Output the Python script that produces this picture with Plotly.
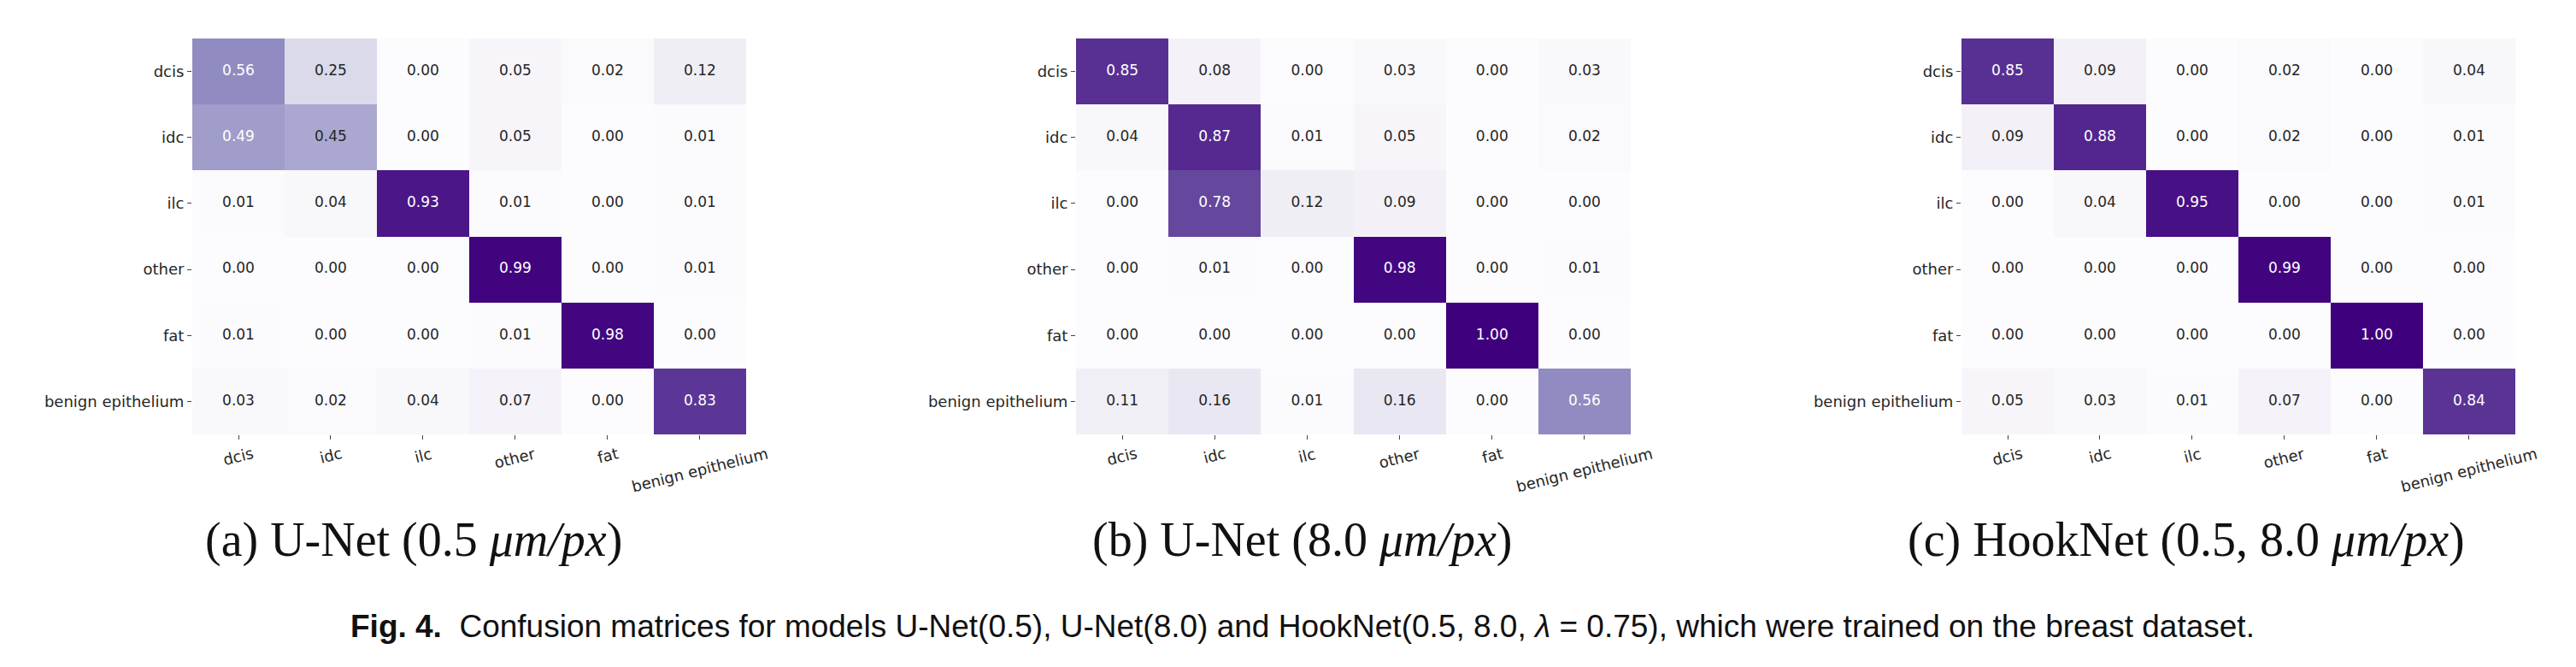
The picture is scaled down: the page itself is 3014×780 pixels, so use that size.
import plotly.graph_objects as go

classes = ["dcis", "idc", "ilc", "other", "fat", "benign epithelium"]

unet_05 = [
    [0.56, 0.25, 0.00, 0.05, 0.02, 0.12],
    [0.49, 0.45, 0.00, 0.05, 0.00, 0.01],
    [0.01, 0.04, 0.93, 0.01, 0.00, 0.01],
    [0.00, 0.00, 0.00, 0.99, 0.00, 0.01],
    [0.01, 0.00, 0.00, 0.01, 0.98, 0.00],
    [0.03, 0.02, 0.04, 0.07, 0.00, 0.83],
]
unet_80 = [
    [0.85, 0.08, 0.00, 0.03, 0.00, 0.03],
    [0.04, 0.87, 0.01, 0.05, 0.00, 0.02],
    [0.00, 0.78, 0.12, 0.09, 0.00, 0.00],
    [0.00, 0.01, 0.00, 0.98, 0.00, 0.01],
    [0.00, 0.00, 0.00, 0.00, 1.00, 0.00],
    [0.11, 0.16, 0.01, 0.16, 0.00, 0.56],
]
hooknet = [
    [0.85, 0.09, 0.00, 0.02, 0.00, 0.04],
    [0.09, 0.88, 0.00, 0.02, 0.00, 0.01],
    [0.00, 0.04, 0.95, 0.00, 0.00, 0.01],
    [0.00, 0.00, 0.00, 0.99, 0.00, 0.00],
    [0.00, 0.00, 0.00, 0.00, 1.00, 0.00],
    [0.05, 0.03, 0.01, 0.07, 0.00, 0.84],
]

subcaptions = [
    "(a) U-Net (0.5 <i>μm/px</i>)",
    "(b) U-Net (8.0 <i>μm/px</i>)",
    "(c) HookNet (0.5, 8.0 <i>μm/px</i>)",
]
main_caption = ("<b>Fig. 4.</b>  Confusion matrices for models U-Net(0.5), U-Net(8.0) and "
                "HookNet(0.5, 8.0, <i>λ</i> = 0.75), which were trained on the breast dataset.")

matrices = [unet_05, unet_80, hooknet]

W, H = 3014, 780
x_domains = [(217, 895), (1251, 1930), (2287, 2965)]
y_top, y_bot = 37, 500
caption_centers = [476, 1516, 2550]

fig = go.Figure()
ann = []
for k, mat in enumerate(matrices):
    sfx = "" if k == 0 else str(k + 1)
    xa, ya = "x" + sfx, "y" + sfx
    fig.add_trace(go.Heatmap(
        z=mat, x=classes, y=classes, colorscale="Purples", zmin=0, zmax=1,
        showscale=False, xaxis=xa, yaxis=ya, hoverinfo="skip"))
    xs, ys, ts, cs = [], [], [], []
    for i, row in enumerate(mat):
        for j, v in enumerate(row):
            xs.append(classes[j]); ys.append(classes[i])
            ts.append(f"{v:.2f}")
            cs.append("#ffffff" if v > 0.47 else "#262626")
    fig.add_trace(go.Scatter(
        x=xs, y=ys, text=ts, mode="text", xaxis=xa, yaxis=ya,
        textfont=dict(family="DejaVu Sans", size=17, color=cs),
        showlegend=False, hoverinfo="skip"))
    d0, d1 = x_domains[k]
    axx = dict(domain=[d0 / W, d1 / W], anchor=ya, type="category",
               categoryorder="array", categoryarray=classes,
               showgrid=False, zeroline=False, showline=False,
               ticks="outside", ticklen=5, tickwidth=1, tickcolor="#444",
               showticklabels=False)
    axy = dict(domain=[1 - y_bot / H, 1 - y_top / H], anchor=xa, type="category",
               categoryorder="array", categoryarray=classes, autorange="reversed",
               showgrid=False, zeroline=False, showline=False,
               ticks="outside", ticklen=5, tickwidth=1, tickcolor="#444",
               tickfont=dict(family="DejaVu Sans", size=18, color="#262626"))
    fig.update_layout(**{"xaxis" + sfx: axx, "yaxis" + sfx: axy})
    for c in classes:
        ann.append(dict(x=c, xref=xa, y=1 - 509 / H, yref="paper",
                        text=c, showarrow=False, textangle=-14,
                        xanchor="center", yanchor="top",
                        font=dict(family="DejaVu Sans", size=18, color="#262626")))
    ann.append(dict(x=caption_centers[k] / W, xref="paper", y=1 - 623 / H, yref="paper",
                    text=subcaptions[k], showarrow=False, xanchor="center", yanchor="middle",
                    font=dict(family="Liberation Serif", size=56, color="#111")))

ann.append(dict(x=1516 / W, xref="paper", y=1 - 724 / H, yref="paper",
                text=main_caption, showarrow=False, xanchor="center", yanchor="middle",
                font=dict(family="Liberation Sans", size=37, color="#111")))

fig.update_layout(width=W, height=H, margin=dict(l=0, r=0, t=0, b=0),
                  paper_bgcolor="white", plot_bgcolor="white",
                  annotations=ann, showlegend=False)
fig.write_html("out.html")
